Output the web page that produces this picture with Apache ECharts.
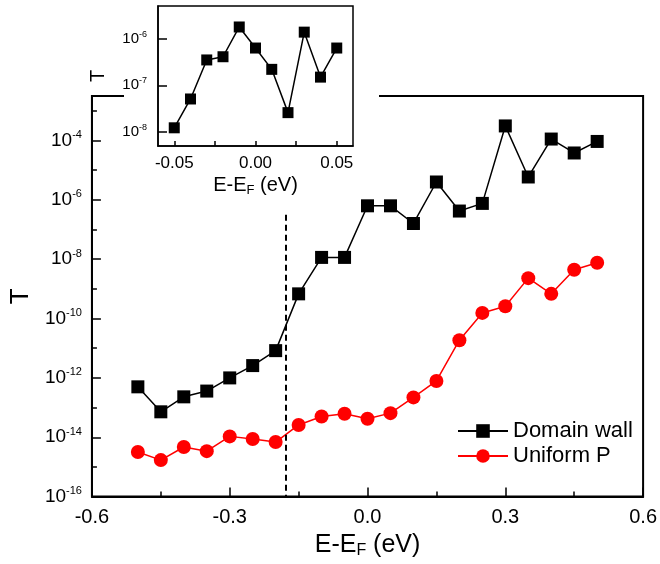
<!DOCTYPE html>
<html>
<head>
<meta charset="utf-8">
<script src="https://cdn.jsdelivr.net/npm/echarts@6/dist/echarts.min.js"></script>
<style>html,body{margin:0;padding:0;background:#fff;}#c{width:660px;height:564px;}</style>
</head>
<body>
<div id="c"></div>
<script>
// ---- data ----
const energies = [-0.5,-0.45,-0.4,-0.35,-0.3,-0.25,-0.2,-0.15,-0.1,-0.05,0,0.05,0.1,0.15,0.2,0.25,0.3,0.35,0.4,0.45,0.5];
const domainWall = [5.0e-13,7.2e-14,2.3e-13,3.6e-13,1.0e-12,2.6e-12,8.3e-12,6.8e-10,1.15e-8,1.15e-8,6.3e-7,6.3e-7,1.6e-7,4.0e-6,4.2e-7,7.6e-7,3.1e-4,5.9e-6,1.12e-4,3.8e-5,9.3e-5];
const uniformP = [3.2e-15,1.7e-15,4.7e-15,3.4e-15,1.07e-14,8.7e-15,6.9e-15,2.6e-14,5.0e-14,6.2e-14,4.2e-14,6.5e-14,2.2e-13,7.9e-13,1.86e-11,1.55e-10,2.6e-10,2.3e-9,6.8e-10,4.4e-9,7.6e-9];
const insetEnergies = [-0.05,-0.04,-0.03,-0.02,-0.01,0,0.01,0.02,0.03,0.04,0.05];
const insetDomainWall = [1.23e-8,5.1e-8,3.5e-7,4.1e-7,1.78e-6,6.3e-7,2.2e-7,2.6e-8,1.38e-6,1.5e-7,6.3e-7];
const mainYMajor = [1e-16,1e-14,1e-12,1e-10,1e-8,1e-6,1e-4];
const mainYMinor = [1e-15,1e-13,1e-11,1e-9,1e-7,1e-5,1e-3];
const insetYTicks = [1e-8,1e-7,1e-6];
const insetXTicks = [-0.05,-0.025,0,0.025,0.05];
const insetXLabels = [-0.05,0,0.05];
const dashedX = -0.177;
const dashedTop = Math.pow(10,-6.5);

const FONT = 'Liberation Sans, Arial, sans-serif';
const expFmt = v => '10{sup|' + Math.round(Math.log10(v)) + '}';

const chart = echarts.init(document.getElementById('c'), null, {renderer:'canvas'});
const mainYBase = {
  type:'log', logBase:10, gridIndex:0, position:'left', min:1e-16, max:Math.pow(10,-2.5),
  splitLine:{show:false}
};
const insetYBase = {
  type:'log', logBase:10, gridIndex:1, position:'left', min:Math.pow(10,-8.3), max:Math.pow(10,-5.3),
  splitLine:{show:false}
};
chart.setOption({
  animation:false,
  backgroundColor:'#fff',
  textStyle:{fontFamily:FONT},
  grid:[
    {left:88, right:13, top:96, bottom:63, show:true, borderColor:'#000', borderWidth:2, z:0},
    {left:158, top:6, width:195, height:140, show:true, borderColor:'#000', borderWidth:1.5, backgroundColor:'#fff', z:10}
  ],
  graphic:[
    {type:'rect', shape:{x:124, y:90, width:255, height:12}, style:{fill:'#fff'}, z:5, silent:true}
  ],
  xAxis:[
    {type:'value', gridIndex:0, position:'bottom', min:-0.6, max:0.6, interval:0.3,
     axisLine:{onZero:false, lineStyle:{color:'#000', width:2}},
     axisTick:{inside:true, length:9, lineStyle:{color:'#000', width:1.5}},
     minorTick:{show:true, splitNumber:2, length:5, lineStyle:{color:'#000', width:1.5}},
     splitLine:{show:false},
     axisLabel:{color:'#000', fontSize:20, margin:11, formatter:v=>v.toFixed(1)},
     name:'E-E{sub|F} (eV)', nameLocation:'middle', nameGap:34,
     nameTextStyle:{color:'#000', fontSize:25, rich:{sub:{fontSize:16, padding:[12,0,0,0]}}}
    },
    {type:'value', gridIndex:1, position:'bottom', min:-0.06, max:0.06, z:12,
     axisLine:{onZero:false, lineStyle:{color:'#000', width:1.5}},
     axisTick:{inside:true, length:5, customValues:insetXTicks, lineStyle:{color:'#000', width:1.5}},
     splitLine:{show:false},
     axisLabel:{color:'#000', fontSize:17, margin:9, customValues:insetXLabels, formatter:v=>v.toFixed(2)},
     name:'E-E{sub|F} (eV)', nameLocation:'middle', nameGap:28,
     nameTextStyle:{color:'#000', fontSize:20, rich:{sub:{fontSize:13, padding:[10,0,0,0]}}}
    }
  ],
  yAxis:[
    Object.assign({}, mainYBase, {
      axisLine:{show:true, onZero:false, lineStyle:{color:'#000', width:2}},
      axisTick:{inside:true, length:9, customValues:mainYMajor, lineStyle:{color:'#000', width:1.5}},
      axisLabel:{color:'#000', fontSize:19, margin:10, customValues:mainYMajor, formatter:expFmt,
        rich:{sup:{fontSize:11, padding:[0,0,11,0]}}},
      name:'T', nameLocation:'middle', nameGap:56,
      nameTextStyle:{color:'#000', fontSize:26}
    }),
    Object.assign({}, mainYBase, {
      axisLine:{show:false, onZero:false},
      axisTick:{inside:true, length:5, customValues:mainYMinor, lineStyle:{color:'#000', width:1.5}},
      axisLabel:{show:false}
    }),
    Object.assign({}, insetYBase, {
      z:12,
      axisLine:{show:true, onZero:false, lineStyle:{color:'#000', width:1.5}},
      axisTick:{inside:true, length:9, customValues:insetYTicks, lineStyle:{color:'#000', width:1.5}},
      axisLabel:{color:'#000', fontSize:15, margin:11, customValues:insetYTicks, formatter:expFmt,
        rich:{sup:{fontSize:9, padding:[0,0,9,0]}}},
      name:'T', nameLocation:'middle', nameGap:50,
      nameTextStyle:{color:'#000', fontSize:20}
    })
  ],
  legend:{
    orient:'vertical', left:452, top:415, itemWidth:50, itemHeight:17, itemGap:3,
    textStyle:{color:'#000', fontSize:22, fontFamily:FONT, lineHeight:22},
    data:['Domain wall','Uniform P']
  },
  series:[
    {name:'Domain wall', type:'line', xAxisIndex:0, yAxisIndex:0,
     data:energies.map((e,i)=>[e, domainWall[i]]),
     symbol:'rect', symbolSize:13, itemStyle:{color:'#000'}, lineStyle:{color:'#000', width:1.5}, z:3,
     markLine:{silent:true, symbol:'none', label:{show:false},
       lineStyle:{color:'#000', type:[6,4], width:2},
       data:[[{coord:[dashedX, dashedTop]},{coord:[dashedX, 1e-16]}]]}
    },
    {name:'Uniform P', type:'line', xAxisIndex:0, yAxisIndex:0,
     data:energies.map((e,i)=>[e, uniformP[i]]),
     symbol:'circle', symbolSize:14, itemStyle:{color:'#ff0000'}, lineStyle:{color:'#ff0000', width:1.5}, z:3
    },
    {name:'inset', type:'line', xAxisIndex:1, yAxisIndex:2,
     data:insetEnergies.map((e,i)=>[e, insetDomainWall[i]]),
     symbol:'rect', symbolSize:11, itemStyle:{color:'#000'}, lineStyle:{color:'#000', width:1.5}, z:13
    }
  ]
});
</script>
</body>
</html>
